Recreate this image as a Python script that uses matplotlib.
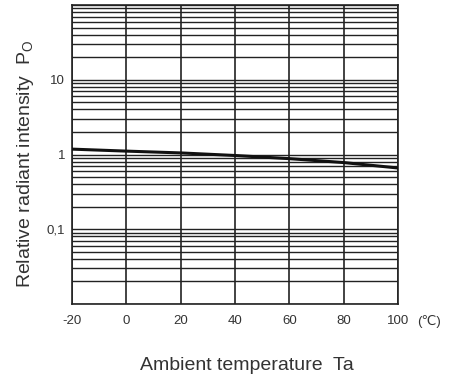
import numpy as np
import matplotlib
matplotlib.use("Agg")
import matplotlib.pyplot as plt
from matplotlib.ticker import FixedLocator, LogLocator, NullFormatter
import matplotlib.transforms as mtransforms

plt.rcParams['font.family'] = ['Liberation Sans', 'DejaVu Sans']
plt.rcParams['mathtext.default'] = 'regular'

# data
temp = [-20, 0, 20, 40, 60, 80, 100]
intensity = [1.18, 1.11, 1.05, 0.97, 0.88, 0.78, 0.66]

x_ticks = [-20, 0, 20, 40, 60, 80, 100]
x_labels = ['-20', '0', '20', '40', '60', '80', '100']
y_ticks = [0.01, 0.1, 1, 10, 100]
y_labels = ['', '0,1', '1', '10', '']

grid_color = '#222222'
text_color = '#333333'

fig = plt.figure(figsize=(4.57, 3.81), dpi=100)
ax = fig.add_axes([72 / 457, 1 - 304 / 381, (398 - 72) / 457, (304 - 5) / 381])

ax.set_yscale('log')
ax.set_xlim(-20, 100)
ax.set_ylim(0.01, 100)

# grid
ax.yaxis.set_major_locator(FixedLocator(y_ticks))
ax.yaxis.set_minor_locator(LogLocator(base=10, subs=np.arange(2, 10)))
ax.yaxis.set_minor_formatter(NullFormatter())
ax.set_yticklabels(y_labels)
ax.set_xticks(x_ticks)
ax.set_xticklabels(x_labels)
ax.grid(True, which='both', axis='y', color=grid_color, lw=1.0)
ax.grid(True, which='major', axis='x', color=grid_color, lw=1.2)
for s in ax.spines.values():
    s.set_color(grid_color)
    s.set_linewidth(1.2)

ax.tick_params(axis='both', which='both', length=0, labelsize=9.5, labelcolor=text_color)
ax.tick_params(axis='x', pad=8)
ax.tick_params(axis='y', pad=5)

ax.plot(temp, intensity, color='#111111', lw=2.2, zorder=5)

# unit next to the last x tick label
trans = mtransforms.blended_transform_factory(ax.transData, ax.transAxes)
ax.annotate('(\u2103)', xy=(100, 0), xycoords=trans, xytext=(14, -8),
            textcoords='offset points', ha='left', va='top', fontsize=9.5,
            color=text_color, annotation_clip=False)

fig.text(247 / 457, 1 - 365 / 381, 'Ambient temperature  Ta', ha='center', va='center',
         fontsize=14, color=text_color)
fig.text(26 / 457, 1 - 164 / 381, 'Relative radiant intensity  P$_{O}$', ha='center', va='center',
         rotation=90, fontsize=14, color=text_color)

fig.savefig('out.png', dpi=100)
